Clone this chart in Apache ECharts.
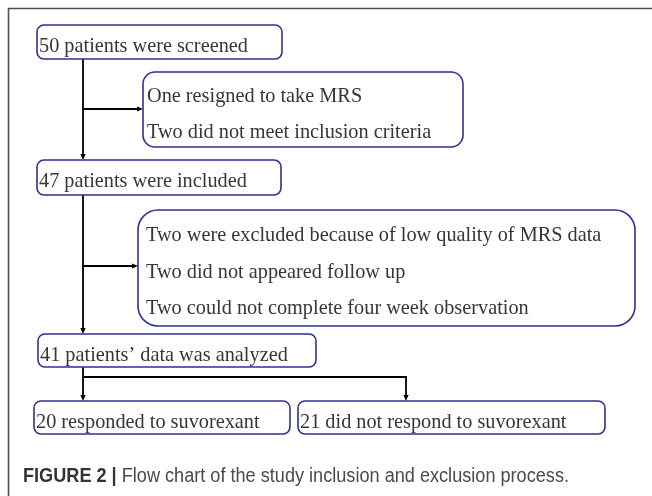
<!DOCTYPE html>
<html><head><meta charset="utf-8">
<script src="https://cdn.jsdelivr.net/npm/echarts@6/dist/echarts.min.js"></script>
<style>html,body{margin:0;padding:0;background:#fff}#c{width:652px;height:496px}</style>
</head><body><div id="c"></div>
<script>
// ---- content ----
const nodeLines = [
  ["50 patients were screened"],
  ["One resigned to take MRS", "Two did not meet inclusion criteria"],
  ["47 patients were included"],
  ["Two were excluded because of low quality of MRS data", "Two did not appeared follow up", "Two could not complete four week observation"],
  ["41 patients\u2019 data was analyzed"],
  ["20 responded to suvorexant"],
  ["21 did not respond to suvorexant"]
];
const edges = [[0, 2], [0, 1], [2, 4], [2, 3], [4, 5], [4, 6]];
const captionBold = "FIGURE 2 |";
const captionText = " Flow chart of the study inclusion and exclusion process.";

// ---- layout (in chart units, mapped through hidden axes) ----
const boxes = [
  {x0: 37, y0: 25, x1: 282, y1: 59, r: 7, tx: 39, ty: [47]},
  {x0: 143, y0: 72, x1: 463, y1: 147, r: 12, tx: 147, ty: [96.5, 132.5]},
  {x0: 37, y0: 160, x1: 281, y1: 195, r: 7, tx: 39, ty: [182]},
  {x0: 138, y0: 210, x1: 635, y1: 326, r: 20, tx: 146, ty: [236, 272.5, 309]},
  {x0: 38, y0: 334, x1: 316, y1: 367, r: 7, tx: 40, ty: [355.5]},
  {x0: 34, y0: 401, x1: 290, y1: 434, r: 7, tx: 36, ty: [422.5]},
  {x0: 298, y0: 401, x1: 605, y1: 434, r: 7, tx: 300, ty: [422.5]}
];
const spineX = 83;
const sideY = {1: 109, 3: 266};
const busY = 377;
const splitX = {5: 83, 6: 406};

function route(e) {
  const [a, b] = e, pa = boxes[a], pb = boxes[b];
  if (sideY[b] !== undefined) return [[spineX, sideY[b]], [pb.x0, sideY[b]]];
  if (splitX[b] !== undefined) {
    const x = splitX[b];
    if (x === spineX) return [[spineX, pa.y1], [spineX, pb.y0]];
    return [[spineX, busY], [x, busY], [x, pb.y0]];
  }
  return [[spineX, pa.y1], [spineX, pb.y0]];
}

const chart = echarts.init(document.getElementById('c'), null, {renderer: 'canvas'});

// caption width fit
const mc = document.createElement('canvas').getContext('2d');
mc.font = 'bold 20px "Liberation Sans"';
const wB = mc.measureText(captionBold).width;
mc.font = '20px "Liberation Sans"';
const wN = mc.measureText(captionText).width;
const capScale = 546 / (wB + wN);

chart.setOption({
  animation: false,
  grid: {left: 0, right: 0, top: 0, bottom: 0},
  xAxis: {type: 'value', min: 0, max: 652, show: false},
  yAxis: {type: 'value', min: 0, max: 496, inverse: true, show: false},
  graphic: [
    {type: 'polyline', shape: {points: [[8.5, 496], [8.5, 8.5], [652, 8.5]]},
     style: {stroke: '#4d4d4d', lineWidth: 1.6, fill: null}, silent: true},
    {type: 'text', left: 23, top: 466, scaleX: capScale, originX: 0,
     style: {rich: {b: {fontFamily: 'Liberation Sans', fontWeight: 'bold', fontSize: 20, fill: '#333'},
                    n: {fontFamily: 'Liberation Sans', fontSize: 20, fill: '#4a4a4a'}},
             text: '{b|' + captionBold + '}{n|' + captionText + '}'}}
  ],
  series: [
    {
      type: 'custom', coordinateSystem: 'cartesian2d', silent: true, z: 2,
      data: edges.map((e, i) => ({value: [i, 0]})),
      renderItem(params, api) {
        const pts = route(edges[params.dataIndex]).map(p => api.coord(p));
        const n = pts.length, tip = pts[n - 1], prev = pts[n - 2];
        const dx = tip[0] - prev[0], dy = tip[1] - prev[1];
        const len = Math.hypot(dx, dy), ux = dx / len, uy = dy / len;
        const L = 6, W = 2.6;
        const base = [tip[0] - ux * L, tip[1] - uy * L];
        const line = pts.slice(0, n - 1).concat([base]);
        return {type: 'group', children: [
          {type: 'polyline', shape: {points: line}, style: {stroke: '#000', lineWidth: 1.8, fill: null}},
          {type: 'polygon', shape: {points: [tip, [base[0] - uy * W, base[1] + ux * W], [base[0] + uy * W, base[1] - ux * W]]},
           style: {fill: '#000'}}
        ]};
      }
    },
    {
      type: 'custom', coordinateSystem: 'cartesian2d', silent: true, z: 3,
      data: nodeLines.map((l, i) => ({value: [i, 0], name: l.join(' ')})),
      renderItem(params, api) {
        const i = params.dataIndex, b = boxes[i];
        const p0 = api.coord([b.x0, b.y0]), p1 = api.coord([b.x1, b.y1]);
        const children = [{type: 'rect',
          shape: {x: p0[0], y: p0[1], width: p1[0] - p0[0], height: p1[1] - p0[1], r: b.r},
          style: {fill: '#fff', stroke: '#2e3192', lineWidth: 1.6}}];
        nodeLines[i].forEach((t, k) => {
          const q = api.coord([b.tx, b.ty[k]]);
          children.push({type: 'text', style: {text: t, x: q[0], y: q[1], fill: '#363636',
            fontFamily: 'Liberation Serif', fontSize: 20.3, align: 'left', verticalAlign: 'middle'}});
        });
        return {type: 'group', children};
      }
    }
  ]
});
</script></body></html>
